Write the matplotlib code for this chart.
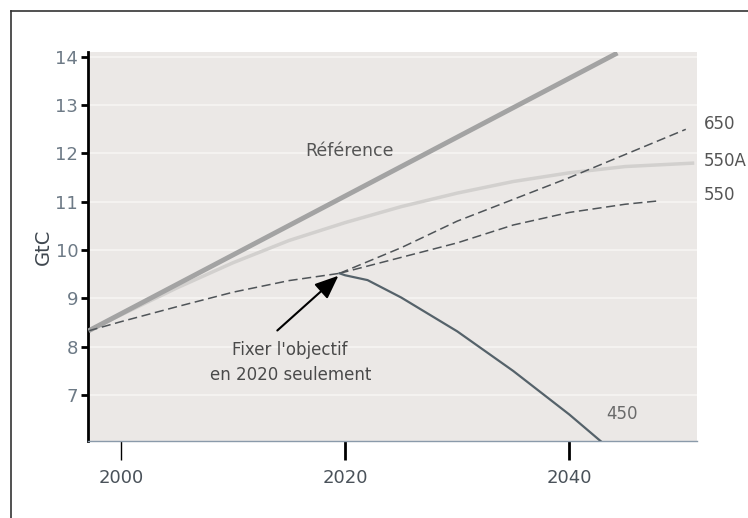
"""Recreation of the GtC emission pathways chart (Référence / 650 / 550A / 550 / 450)."""

import matplotlib

matplotlib.use("Agg")
import matplotlib.pyplot as plt
from matplotlib.lines import Line2D

# --- data ----------------------------------------------------------------
ref_years = [1997.1, 2044.3]
ref_values = [8.33, 14.08]

years_550a = [1997.1, 2000, 2005, 2010, 2015, 2020, 2025, 2030, 2035, 2040, 2045, 2051]
values_550a = [8.33, 8.66, 9.22, 9.74, 10.2, 10.57, 10.9, 11.18, 11.42, 11.6, 11.73, 11.8]

common_years = [1997.1, 2000, 2005, 2010, 2015, 2019.5]
common_values = [8.33, 8.52, 8.83, 9.13, 9.37, 9.52]

years_650 = [2019.5, 2025, 2030, 2035, 2040, 2045, 2050.4]
values_650 = [9.52, 10.05, 10.6, 11.05, 11.5, 11.98, 12.5]

years_550 = [2019.5, 2025, 2030, 2035, 2040, 2045, 2048]
values_550 = [9.52, 9.85, 10.15, 10.52, 10.78, 10.95, 11.02]

years_450 = [2019.5, 2020, 2022, 2025, 2030, 2035, 2040, 2043.3]
values_450 = [9.52, 9.48, 9.38, 9.02, 8.32, 7.5, 6.6, 5.95]

y_ticks = [7, 8, 9, 10, 11, 12, 13, 14]
x_ticks = [2000, 2020, 2040]

fig = plt.figure(figsize=(7.48, 5.18), dpi=100)
fig.patch.set_facecolor("white")
ax = fig.add_axes([0.1176, 0.1486, 0.8142, 0.751])
ax.set_facecolor("#ebe8e6")

for y in y_ticks:
    ax.axhline(y, color="#f7f5f3", lw=1.2, zorder=0)

dash = (0, (6, 3))
ax.plot(ref_years, ref_values, color="#a3a3a3", lw=3.5, solid_capstyle="butt", zorder=3)
ax.plot(years_550a, values_550a, color="#d2d0ce", lw=2.5, zorder=2)
ax.plot(common_years, common_values, color="#4f5458", lw=1.1, ls=dash, zorder=4)
ax.plot(years_650, values_650, color="#4f5458", lw=1.1, ls=dash, zorder=4)
ax.plot(years_550, values_550, color="#4f5458", lw=1.1, ls=dash, zorder=4)
ax.plot(years_450, values_450, color="#55626a", lw=1.6, zorder=4)

ax.set_xlim(1997.05, 2051.4)
ax.set_ylim(6.05, 14.1)

ax.set_yticks(y_ticks)
ax.set_xticks(x_ticks)
ax.tick_params(axis="y", direction="out", length=5, width=2, color="black",
               labelsize=13, labelcolor="#6d7a86", pad=2)
ax.tick_params(axis="x", direction="out", length=14, width=2, color="black",
               labelsize=13, labelcolor="#4a525a", pad=6)
ax.get_xticklines()[0].set_color("#c5d0dc")
ax.get_xticklines()[0].set_markeredgewidth(1)

for side in ("top", "right"):
    ax.spines[side].set_visible(False)
ax.spines["left"].set_color("black")
ax.spines["left"].set_linewidth(2)
ax.spines["bottom"].set_color("#8a9aaa")
ax.spines["bottom"].set_linewidth(1)

ax.set_ylabel("GtC", fontsize=14, color="#3f474f", labelpad=2)

ax.text(2016.4, 12.05, "Référence", fontsize=12.5, color="#555555", ha="left", va="center")
ax.text(2052.0, 12.6, "650", fontsize=12, color="#555555", ha="left", va="center", clip_on=False)
ax.text(2052.0, 11.85, "550A", fontsize=12, color="#555555", ha="left", va="center", clip_on=False)
ax.text(2052.0, 11.15, "550", fontsize=12, color="#555555", ha="left", va="center", clip_on=False)
ax.text(2043.3, 6.6, "450", fontsize=12, color="#6a6a6a", ha="left", va="center")

ax.annotate("Fixer l'objectif\nen 2020 seulement", xy=(2019.4, 9.47), xytext=(2015.1, 7.67),
            fontsize=12, color="#4a4a4a", ha="center", va="center", linespacing=1.5,
            arrowprops=dict(arrowstyle="-|>,head_length=1.2,head_width=0.5",
                            color="black", lw=1.5, shrinkA=0, shrinkB=0,
                            relpos=(0.42, 1.25)))

# thin frame around the picture (left and top edges visible)
fig.add_artist(Line2D([11 / 748, 11 / 748], [0, 1 - 11 / 518], color="#333333", lw=1.2))
fig.add_artist(Line2D([11 / 748, 1], [1 - 11 / 518, 1 - 11 / 518], color="#333333", lw=1.2))

fig.savefig("out.png", dpi=100)
plt.close(fig)
